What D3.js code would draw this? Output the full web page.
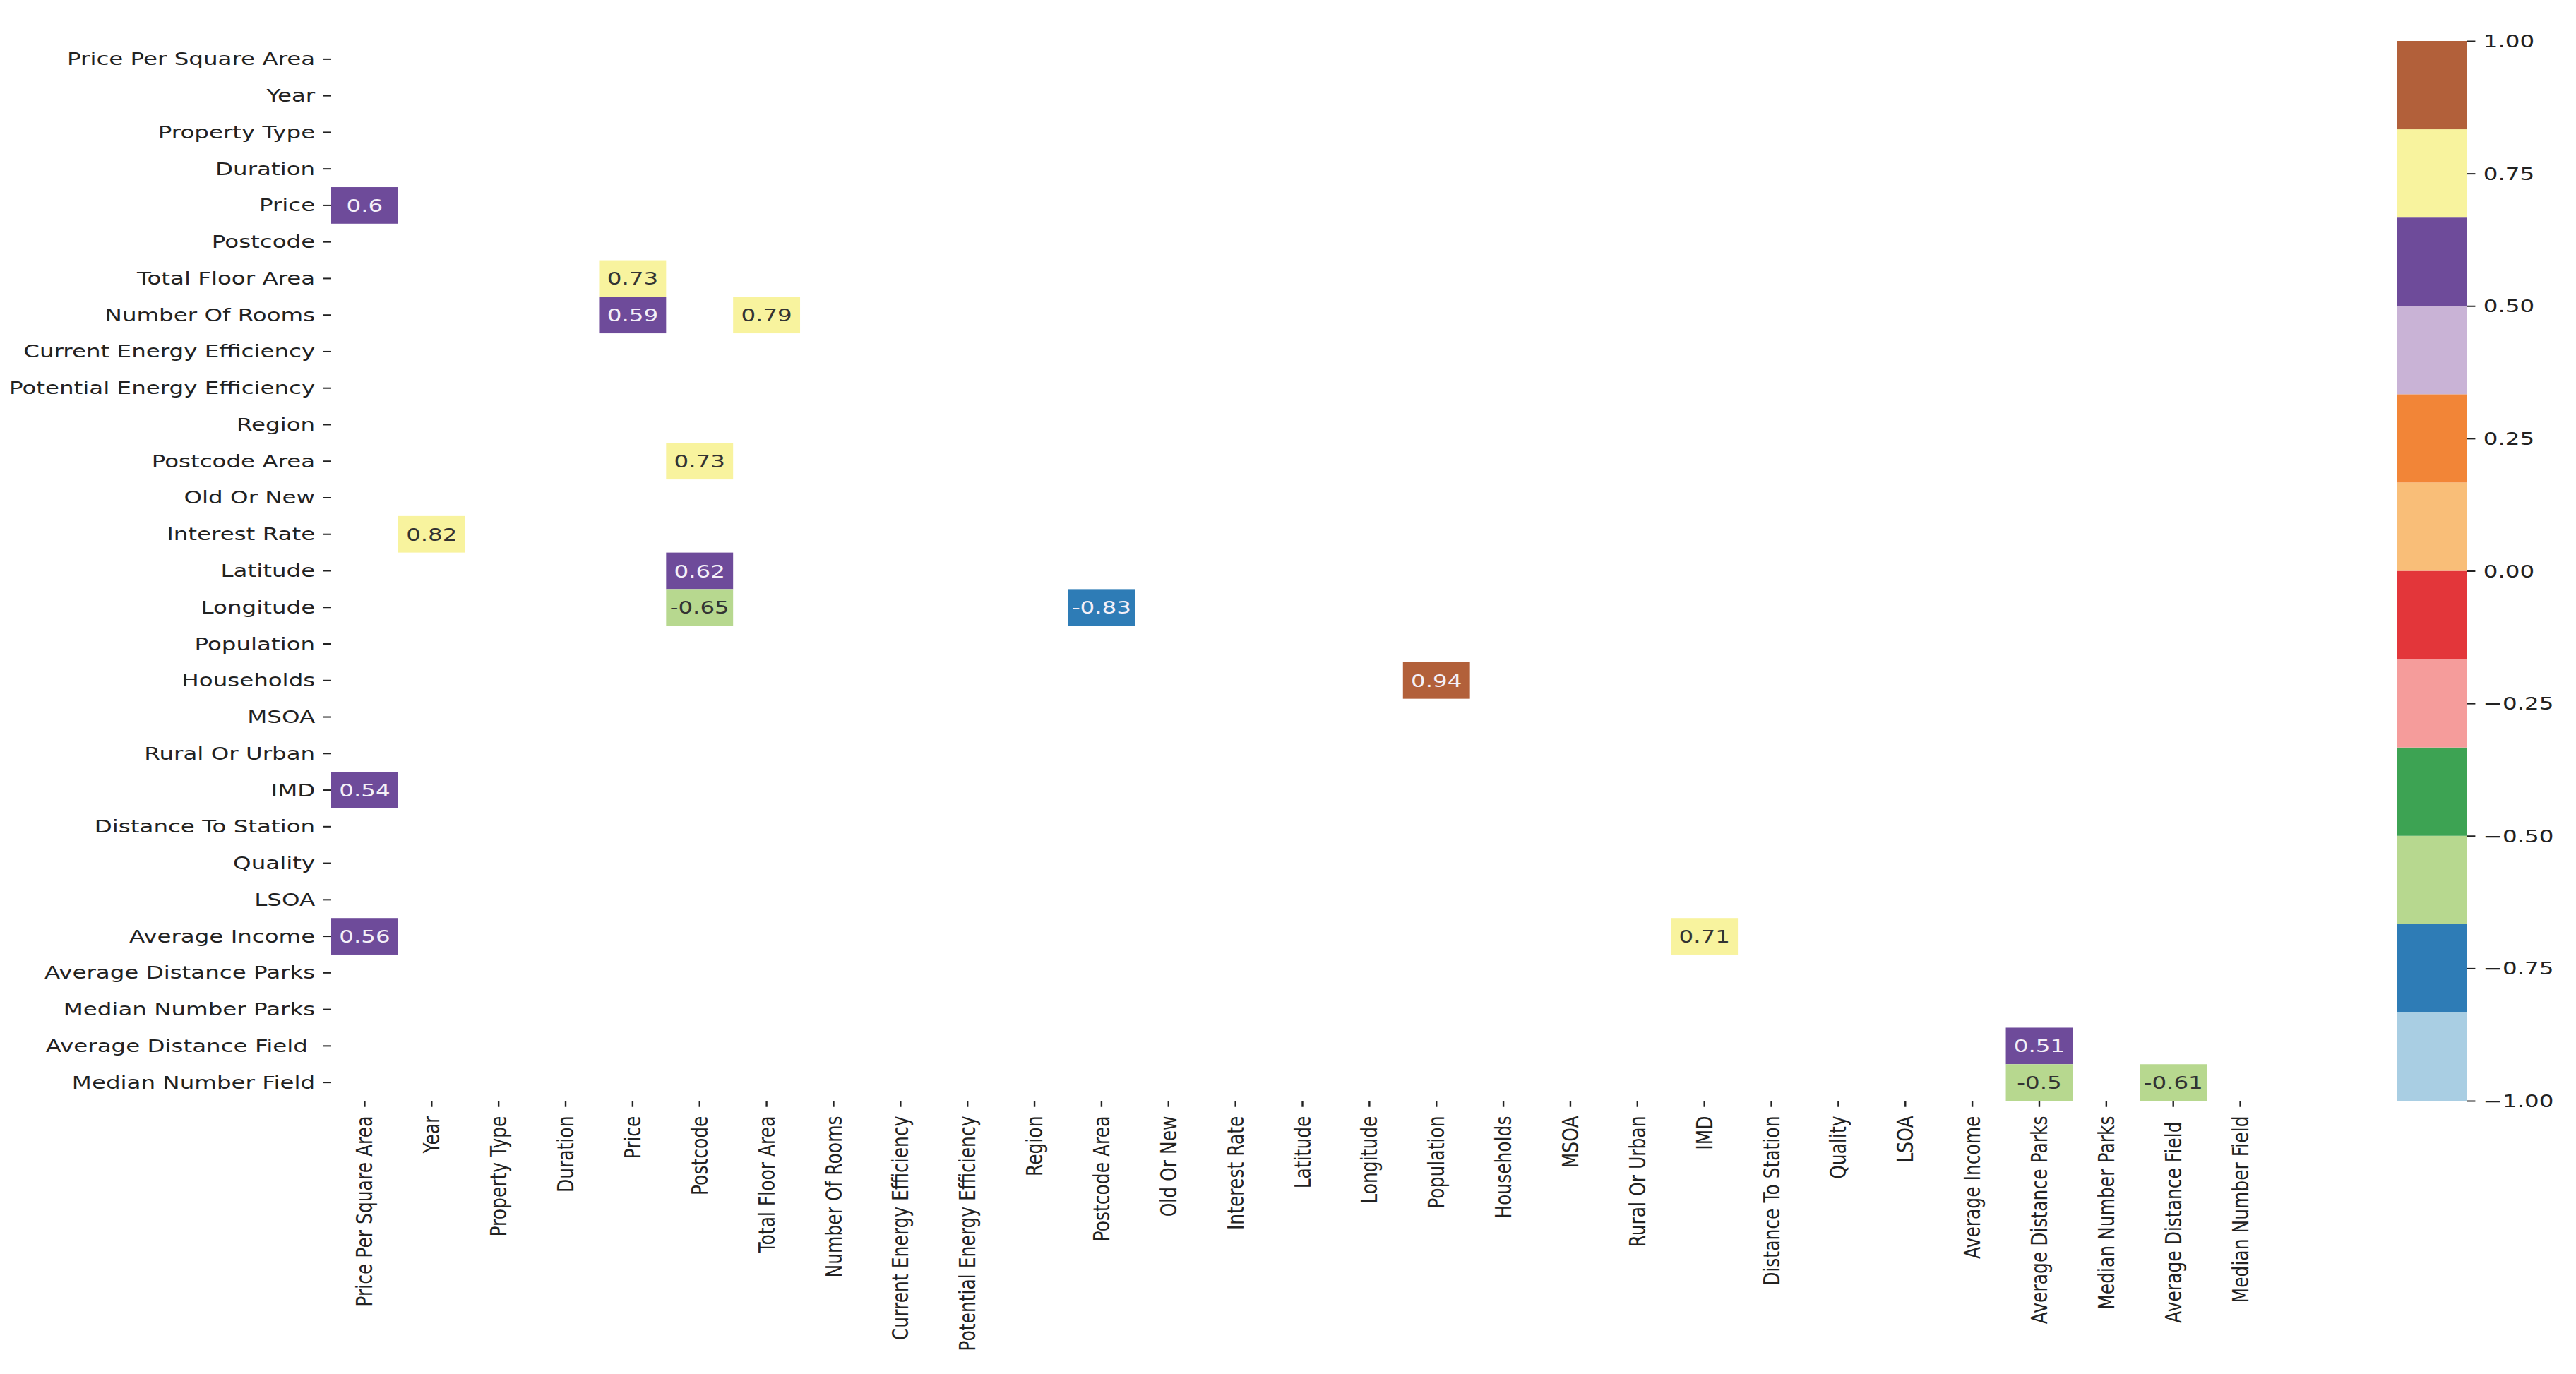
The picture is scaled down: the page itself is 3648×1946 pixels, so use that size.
<!DOCTYPE html>
<html>
<head>
<meta charset="utf-8">
<script src="https://cdn.jsdelivr.net/npm/d3@7"></script>
<style>
  body { margin: 0; background: #fff; }
  text { font-family: "DejaVu Sans", sans-serif; white-space: pre; }
</style>
</head>
<body>
<svg id="chart" width="3648" height="1946"></svg>
<script>
// ---------- DATA ----------
const variables = [
  "Price Per Square Area", "Year", "Property Type", "Duration", "Price", "Postcode",
  "Total Floor Area", "Number Of Rooms", "Current Energy Efficiency",
  "Potential Energy Efficiency", "Region", "Postcode Area", "Old Or New",
  "Interest Rate", "Latitude", "Longitude", "Population", "Households", "MSOA",
  "Rural Or Urban", "IMD", "Distance To Station", "Quality", "LSOA",
  "Average Income", "Average Distance Parks", "Median Number Parks",
  "Average Distance Field ", "Median Number Field"
];

// Visible (|r| >= 0.5, lower triangle) correlation cells
const cellRow = [
  "Price", "Total Floor Area", "Number Of Rooms", "Number Of Rooms",
  "Postcode Area", "Interest Rate", "Latitude", "Longitude", "Longitude",
  "Households", "IMD", "Average Income", "Average Income",
  "Average Distance Field ", "Median Number Field", "Median Number Field"
];
const cellCol = [
  "Price Per Square Area", "Price", "Price", "Total Floor Area",
  "Postcode", "Year", "Postcode", "Postcode", "Postcode Area",
  "Population", "Price Per Square Area", "Price Per Square Area", "IMD",
  "Average Distance Parks", "Average Distance Parks", "Average Distance Field "
];
const cellValue = [
  0.60, 0.73, 0.59, 0.79,
  0.73, 0.82, 0.62, -0.65, -0.83,
  0.94, 0.54, 0.56, 0.71,
  0.51, -0.504, -0.61
];

const colorTicks = [1.0, 0.75, 0.5, 0.25, 0.0, -0.25, -0.5, -0.75, -1.0];

// 12-step "Paired" palette, from -1 up to +1
const paletteColors = [
  "#a9cee3", "#2e7cb6", "#b7d88f", "#3da353", "#f59c9b", "#e3363a",
  "#f9be78", "#f28537", "#c9b3d6", "#6e4b9a", "#f8f39e", "#b2603a"
];

// ---------- LAYOUT ----------
const heat = { left: 469, right: 3220, top: 58, bottom: 1559 };
const cbar = { left: 3394, right: 3494 };
const fontSize = 25;      // vertical size
const stretchX = 1.3;     // horizontal stretch of glyphs
const tickLenH = 11.4, tickLenV = 8.75;
const textColor = "#222";

const svg = d3.select("#chart");

const x = d3.scaleBand().domain(variables).range([heat.left, heat.right]);
const y = d3.scaleBand().domain(variables).range([heat.top, heat.bottom]);
const color = d3.scaleQuantize().domain([-1, 1]).range(paletteColors);

const fmt = d3.formatLocale({ decimal: ".", thousands: ",", grouping: [3], currency: ["", ""], minus: "-" }).format(".2~g");

// ---------- CELLS ----------
const cells = cellValue.map((v, i) => ({ row: cellRow[i], col: cellCol[i], value: v }));

const g = svg.append("g");
g.selectAll("rect.cell").data(cells).join("rect")
  .attr("class", "cell")
  .attr("x", d => x(d.col))
  .attr("y", d => y(d.row))
  .attr("width", x.bandwidth())
  .attr("height", y.bandwidth())
  .attr("fill", d => color(d.value));

g.selectAll("text.annot").data(cells).join("text")
  .attr("class", "annot")
  .attr("transform", d => `translate(${x(d.col) + x.bandwidth() / 2},${y(d.row) + y.bandwidth() / 2}) scale(${stretchX},1)`)
  .attr("text-anchor", "middle")
  .attr("dy", "0.36em")
  .attr("font-size", fontSize)
  .attr("fill", d => d3.hsl(color(d.value)).l > 0.6 ? "#333" : "#f4f0f8")
  .text(d => fmt(d.value));

// ---------- AXES ----------
const yAxis = svg.append("g")
  .attr("transform", `translate(${heat.left},0)`)
  .call(d3.axisLeft(y).tickSize(tickLenH).tickPadding(0));
yAxis.select(".domain").remove();
yAxis.selectAll(".tick line").attr("stroke", textColor).attr("stroke-width", 2);
yAxis.selectAll(".tick text")
  .attr("x", null).attr("dy", "0.34em")
  .attr("transform", `translate(${-(tickLenH * 2)},0) scale(${stretchX},1)`)
  .attr("text-anchor", "end")
  .attr("font-size", fontSize)
  .attr("font-family", "DejaVu Sans")
  .attr("fill", textColor);

const xAxis = svg.append("g")
  .attr("transform", `translate(0,${heat.bottom})`)
  .call(d3.axisBottom(x).tickSize(tickLenV).tickPadding(0));
xAxis.select(".domain").remove();
xAxis.selectAll(".tick line").attr("stroke", textColor).attr("stroke-width", 2.4);
xAxis.selectAll(".tick text")
  .attr("x", 0).attr("y", 0).attr("dy", "0.34em")
  .attr("transform", `translate(0,${tickLenV * 2 + 4}) scale(${stretchX},1) rotate(-90)`)
  .attr("text-anchor", "end")
  .attr("font-size", fontSize)
  .attr("font-family", "DejaVu Sans")
  .attr("fill", textColor);

// ---------- COLORBAR ----------
const yc = d3.scaleLinear().domain([-1, 1]).range([heat.bottom, heat.top]);
const bounds = d3.range(paletteColors.length + 1).map(i => -1 + 2 * i / paletteColors.length);
svg.append("g").selectAll("rect").data(paletteColors).join("rect")
  .attr("x", cbar.left)
  .attr("width", cbar.right - cbar.left)
  .attr("y", (c, i) => yc(bounds[i + 1]))
  .attr("height", (c, i) => yc(bounds[i]) - yc(bounds[i + 1]))
  .attr("fill", c => c);

const cAxis = svg.append("g")
  .attr("transform", `translate(${cbar.right},0)`)
  .call(d3.axisRight(yc).tickValues(colorTicks).tickFormat(d3.format(".2f")).tickSize(tickLenH).tickPadding(0));
cAxis.select(".domain").remove();
cAxis.selectAll(".tick line").attr("stroke", textColor).attr("stroke-width", 2);
cAxis.selectAll(".tick text")
  .attr("x", null).attr("dy", "0.34em")
  .attr("transform", `translate(${tickLenH * 2},0) scale(${stretchX},1)`)
  .attr("text-anchor", "start")
  .attr("font-size", fontSize)
  .attr("font-family", "DejaVu Sans")
  .attr("fill", textColor);
</script>
</body>
</html>
